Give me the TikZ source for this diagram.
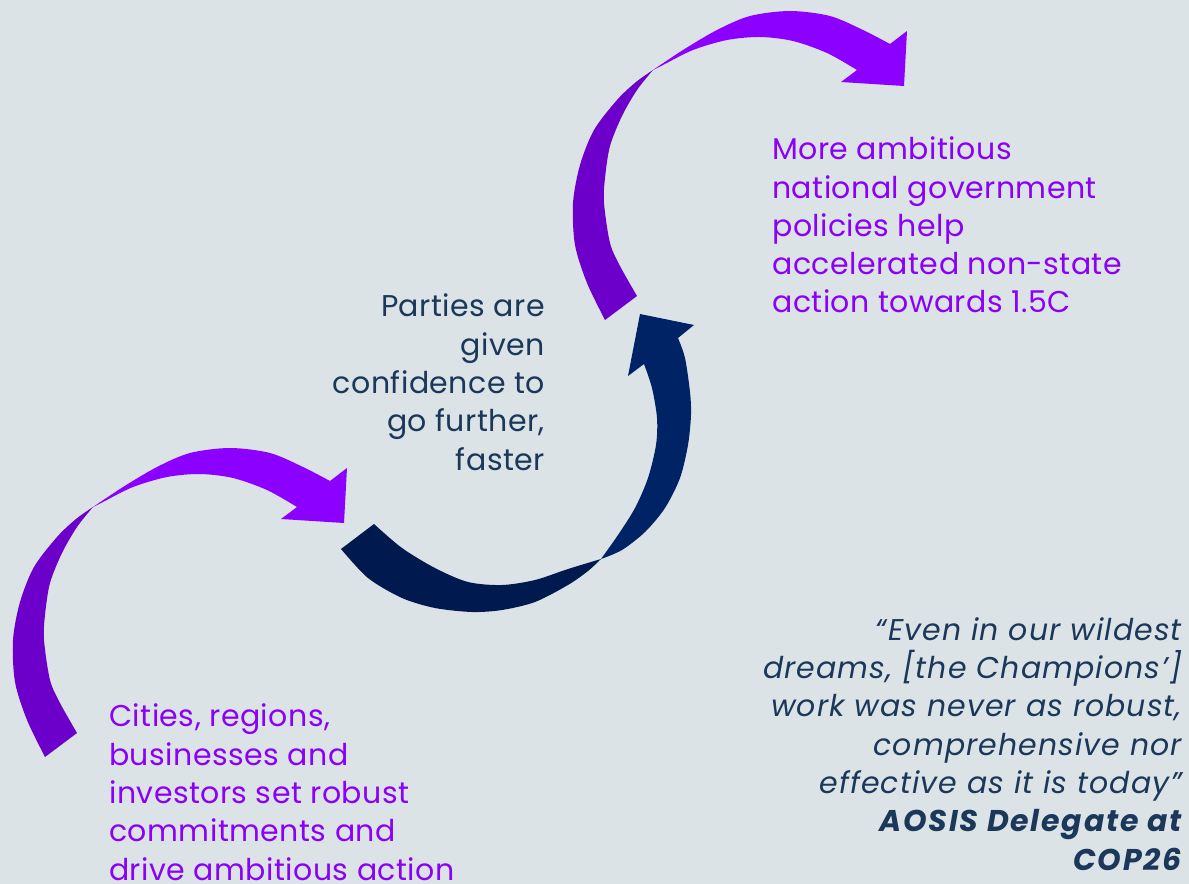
\documentclass[tikz,border=0pt]{standalone}
\usepackage{fontspec}
\setmainfont{Poppins}[LetterSpace=1.5]
\definecolor{bgc}{HTML}{DCE3E6}
\definecolor{pbright}{HTML}{8C00FF}
\definecolor{pdark}{HTML}{6C00CA}
\definecolor{nright}{HTML}{002366}
\definecolor{nbottom}{HTML}{001A50}
\definecolor{ptext}{HTML}{8B00F6}
\definecolor{dtext}{HTML}{1B3759}
\begin{document}
\begin{tikzpicture}[x=0.75pt,y=-0.75pt,
  txt/.style={inner sep=0pt, font=\fontsize{22.5}{28.7}\selectfont},
  ptxt/.style={txt, text=ptext, align=left, anchor=base west},
  dtxt/.style={txt, text=dtext, align=right, anchor=base east},
  tailband/.style={fill=pdark},
  headband/.style={fill=pbright}]
\fill[bgc] (0,0) rectangle (1189,884);
\useasboundingbox (0,0) rectangle (1189,884);
% purple arrows (lower-left and upper)
\foreach \dx/\dy in {0/0, 560/-437}{
\begin{scope}[shift={(\dx,\dy)}]
\fill[tailband] plot[smooth] coordinates {(93,507) (76,519) (57,537) (34,567) (20,602) (13,640) (15,682) (27,720) (45,757)}
  -- (77,733)
  -- plot[smooth] coordinates {(77,733) (60,703) (50,680) (44,640) (45,615) (50,583) (62,553) (77,527) (93,507)} -- cycle;
\fill[headband] plot[smooth] coordinates {(93,507) (123,487) (157,467) (190,453) (230,448) (270,453) (303,467) (330,481)}
  -- (347,468) -- (344,523) -- (281,519) -- (297,507)
  -- plot[smooth] coordinates {(297,507) (267,490) (233,478) (200,474) (167,477) (133,487) (103,502) (93,507)} -- cycle;
\end{scope}}
% navy arrow
\fill[nbottom] plot[smooth] coordinates {(601,559) (588,571) (568,585) (535,602) (502,610) (472,612) (435,608) (402,598) (368,578) (341,549)}
  -- (374,524)
  -- plot[smooth] coordinates {(374,524) (402,548) (435,568) (468,582) (502,585) (535,580) (568,569) (601,559)} -- cycle;
\fill[nright] plot[smooth] coordinates {(601,559) (622,550) (645,532) (665,508) (680,478) (688,445) (691,415) (690,392) (685,358) (678,338)}
  -- (694,325) -- (640,314) -- (628,376) -- (644,364)
  -- plot[smooth] coordinates {(644,364) (652,388) (657,418) (656,445) (648,478) (635,508) (618,535) (601,559)} -- cycle;
% texts
\node[ptxt] (gov) at (772,313) {More ambitious\\national government\\policies help\\accelerated non-state\\action towards 1.5C};
\node[dtxt] (parties) at (545,470) {Parties are\\given\\confidence to\\go further,\\faster};
\node[ptxt] (cities) at (109,880) {Cities, regions,\\businesses and\\investors set robust\\commitments and\\drive ambitious action};
\node[dtxt, font=\fontsize{22.5}{28.7}\selectfont\itshape\addfontfeatures{LetterSpace=3.5}] (quote) at (1182,870) {“Even in our wildest\\dreams, [the Champions’]\\work was never as robust,\\comprehensive nor\\effective as it is today”\\{\bfseries\addfontfeatures{LetterSpace=6}AOSIS Delegate at}\\{\bfseries\addfontfeatures{LetterSpace=6}COP26}};
\end{tikzpicture}
\end{document}
